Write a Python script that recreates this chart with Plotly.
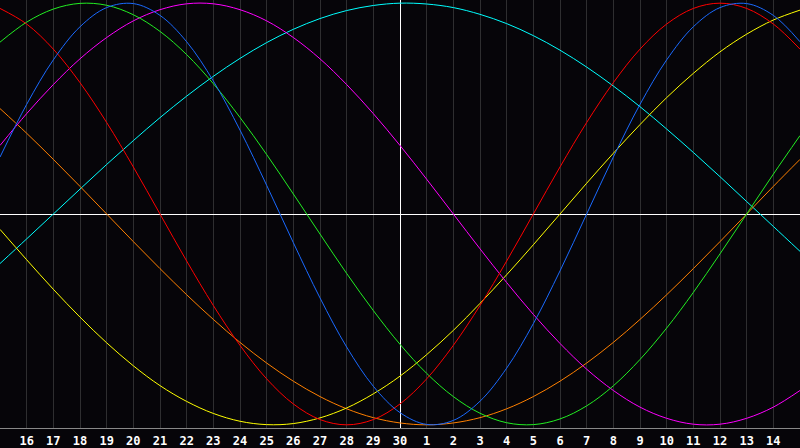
import plotly.graph_objects as go

# days relative to today (30th), -15 .. 15
days = list(range(-15, 16))
day_labels = ["16", "17", "18", "19", "20", "21", "22", "23", "24", "25", "26", "27", "28", "29", "30",
              "1", "2", "3", "4", "5", "6", "7", "8", "9", "10", "11", "12", "13", "14"]
label_days = list(range(-14, 15))

# cycle values in percent at each day
physical = [27.0, 52.0, 73.1, 88.8, 97.9, 99.8, 94.2, 81.7, 63.1, 39.8, 13.6, -13.6, -39.8, -63.1, -81.7, -94.2,
            -99.8, -97.9, -88.8, -73.1, -52.0, -27.0, 0, 27.0, 52.0, 73.1, 88.8, 97.9, 99.8, 94.2, 81.7]
emotional = [97.5, 90.1, 78.2, 62.3, 43.4, 22.3, 0, -22.3, -43.4, -62.3, -78.2, -90.1, -97.5, -100, -97.5, -90.1,
             -78.2, -62.3, -43.4, -22.3, 0, 22.3, 43.4, 62.3, 78.2, 90.1, 97.5, 100, 97.5, 90.1, 78.2]
intellectual = [81.5, 91.0, 97.2, 99.9, 99.0, 94.5, 86.6, 75.6, 61.8, 45.8, 28.2, 9.5, -9.5, -28.2, -45.8, -61.8,
                -75.6, -86.6, -94.5, -99.0, -99.9, -97.2, -91.0, -81.5, -69.0, -54.1, -37.2, -18.9, 0, 18.9, 37.2]
intuitive = [32.5, 47.6, 61.4, 73.6, 83.7, 91.6, 96.9, 99.7, 99.7, 96.9, 91.6, 83.7, 73.6, 61.4, 47.6, 32.5,
             16.5, 0, -16.5, -32.5, -47.6, -61.4, -73.6, -83.7, -91.6, -96.9, -99.7, -99.7, -96.9, -91.6, -83.7]
aesthetic = [-7.3, -21.7, -35.7, -48.9, -61.1, -72.0, -81.4, -88.9, -94.6, -98.3, -99.9, -99.4, -96.7, -92.0, -85.3, -76.9,
             -66.7, -55.2, -42.4, -28.8, -14.6, 0, 14.6, 28.8, 42.4, 55.2, 66.7, 76.9, 85.3, 92.0, 96.7]
awareness = [50.0, 38.3, 25.9, 13.1, 0, -13.1, -25.9, -38.3, -50.0, -60.9, -70.7, -79.3, -86.6, -92.4, -96.6, -99.1,
             -100, -99.1, -96.6, -92.4, -86.6, -79.3, -70.7, -60.9, -50.0, -38.3, -25.9, -13.1, 0, 13.1, 25.9]
spiritual = [-23.5, -11.8, 0, 11.8, 23.5, 34.8, 45.7, 55.9, 65.3, 73.8, 81.3, 87.6, 92.7, 96.5, 98.9, 100.0,
             99.6, 97.9, 94.7, 90.3, 84.6, 77.7, 69.7, 60.7, 50.9, 40.3, 29.2, 17.7, 5.9, -5.9, -17.7]

series = [
    ("Spiritual", spiritual, "#00ffff"),
    ("Awareness", awareness, "#ff8000"),
    ("Aesthetic", aesthetic, "#ffff00"),
    ("Intuitive", intuitive, "#ff00ff"),
    ("Intellectual", intellectual, "#22ee22"),
    ("Emotional", emotional, "#ff0000"),
    ("Physical", physical, "#1a6aff"),
]

fig = go.Figure()
for name, vals, color in series:
    fig.add_trace(go.Scatter(x=days, y=vals, name=name, mode="lines",
                             line=dict(color=color, width=1, shape="spline", smoothing=1)))

fig.update_layout(
    width=800, height=448,
    margin=dict(l=0, r=0, t=0, b=20),
    paper_bgcolor="#060509",
    plot_bgcolor="#060509",
    showlegend=False,
    xaxis=dict(
        range=[-15, 15],
        tickvals=label_days,
        ticktext=day_labels,
        showgrid=True, gridcolor="#2e2e30", gridwidth=1,
        zeroline=True, zerolinecolor="#ffffff", zerolinewidth=1,
        showline=True, linecolor="#888888", linewidth=1, mirror=True,
        ticks="", ticklabelstandoff=2,
        tickfont=dict(family="DejaVu Sans Mono", size=12, color="#ffffff", weight="bold"),
    ),
    yaxis=dict(
        range=[-101.5, 101.5],
        showgrid=False,
        zeroline=True, zerolinecolor="#ffffff", zerolinewidth=1,
        showline=True, linecolor="#888888", linewidth=1, mirror=True,
        showticklabels=False, ticks="",
    ),
)

# drop the page's default body margin so the figure fills the window
fig.write_html("out.html", config={"displayModeBar": False},
               post_script="document.body.style.margin='0';document.body.style.background='#060509';")
